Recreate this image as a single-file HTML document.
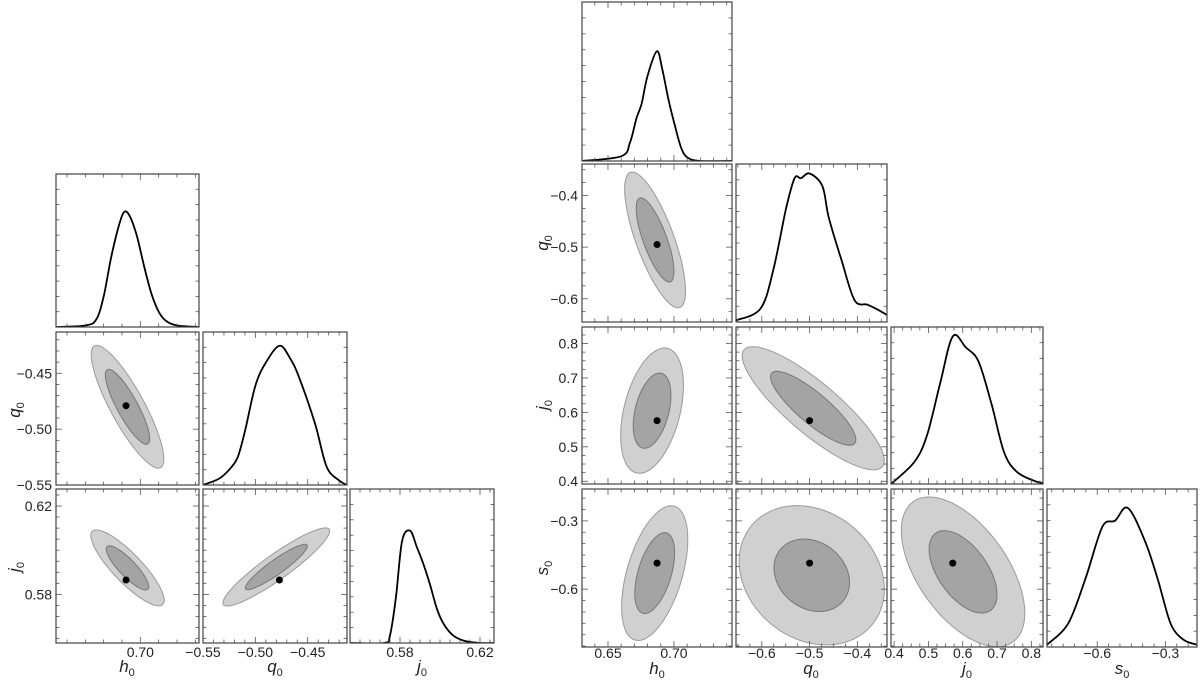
<!DOCTYPE html>
<html><head><meta charset="utf-8"><style>
html,body{margin:0;padding:0;background:#fff;width:1200px;height:682px;overflow:hidden}
svg text{font-family:"Liberation Sans",sans-serif;fill:#222}
</style></head><body>
<svg id="chart" width="1200" height="682" xmlns="http://www.w3.org/2000/svg"></svg>
<script>
// ---------- data ----------
const L_h0_x=[0.677,0.685,0.688,0.690,0.692,0.694,0.6955,0.697,0.699,0.701,0.703,0.705,0.707,0.710,0.716];
const L_h0_d=[0,0.01,0.05,0.2,0.45,0.65,0.75,0.73,0.6,0.4,0.22,0.1,0.04,0.01,0];
const L_q0_x=[-0.55,-0.535,-0.525,-0.517,-0.51,-0.50,-0.49,-0.477,-0.467,-0.458,-0.443,-0.432,-0.42,-0.4125];
const L_q0_d=[0,0.04,0.1,0.18,0.35,0.65,0.8,0.91,0.83,0.7,0.4,0.12,0.03,0];
const L_j0_x=[0.555,0.572,0.575,0.578,0.581,0.585,0.5885,0.5915,0.595,0.5985,0.602,0.6065,0.612,0.62,0.627];
const L_j0_d=[0,0,0.05,0.3,0.66,0.73,0.62,0.52,0.38,0.22,0.12,0.05,0.015,0,0];
const R_h0_x=[0.6303,0.6602,0.6668,0.6716,0.6755,0.6798,0.687,0.6911,0.696,0.7008,0.7056,0.7105,0.7202,0.744];
const R_h0_d=[0,0.03,0.12,0.27,0.36,0.53,0.69,0.58,0.38,0.22,0.08,0.02,0,0];
const R_q0_x=[-0.654,-0.6027,-0.5759,-0.5491,-0.5313,-0.5179,-0.5,-0.4732,-0.4598,-0.433,-0.4063,-0.3795,-0.3616,-0.3384];
const R_q0_d=[0.01,0.085,0.33,0.72,0.91,0.91,0.94,0.86,0.66,0.39,0.14,0.11,0.085,0.045];
const R_j0_x=[0.391,0.459,0.496,0.534,0.571,0.609,0.646,0.684,0.721,0.759,0.809,0.834];
const R_j0_d=[0,0.14,0.31,0.64,0.94,0.87,0.78,0.51,0.2,0.075,0.02,0.005];
const R_s0_x=[-0.821,-0.7275,-0.6525,-0.5775,-0.5213,-0.465,-0.39,-0.3338,-0.2775,-0.2213,-0.161];
const R_s0_d=[0.014,0.15,0.43,0.76,0.80,0.88,0.67,0.43,0.15,0.047,0.014];
// 2D regions: [cx, cy, halfX, halfY, rho, innerScale]; best-fit points
const L_h0q0=[0.6965,-0.480,0.0099,0.055,-0.85,0.61]; const L_h0q0_pt=[0.6961,-0.479];
const L_h0j0=[0.6965,0.592,0.0100,0.0172,-0.85,0.58]; const L_h0j0_pt=[0.6961,0.5865];
const L_q0j0=[-0.480,0.5924,0.051,0.0177,0.92,0.58]; const L_q0j0_pt=[-0.477,0.5865];
const R_h0q0=[0.6857,-0.486,0.0231,0.1315,-0.75,0.62]; const R_h0q0_pt=[0.6872,-0.495];
const R_h0j0=[0.6834,0.605,0.0238,0.182,0.4,0.6]; const R_h0j0_pt=[0.6872,0.576];
const R_q0j0=[-0.4924,0.612,0.1487,0.179,-0.85,0.6]; const R_q0j0_pt=[-0.5,0.576];
const R_h0s0=[0.6854,-0.5295,0.0251,0.296,0.5,0.6]; const R_h0s0_pt=[0.6872,-0.4855];
const R_q0s0=[-0.4955,-0.539,0.152,0.306,-0.2,0.52]; const R_q0s0_pt=[-0.5,-0.4855];
const R_j0s0=[0.601,-0.524,0.18,0.329,-0.55,0.55]; const R_j0s0_pt=[0.571,-0.4855];
const L_rng={h0:[0.677,0.716],q0:[-0.55,-0.4125],j0:[0.555,0.627]};
const L_rngY={q0:[-0.55,-0.413],j0:[0.558,0.6277]};
const R_rng={h0:[0.6303,0.744],q0:[-0.654,-0.338],j0:[0.391,0.834],s0:[-0.821,-0.161]};
const R_rngY={q0:[-0.645,-0.339],j0:[0.392,0.848],s0:[-0.854,-0.16]};
const L_ticks={h0:[0.70],q0:[-0.55,-0.50,-0.45],j0:[0.58,0.62]};
const L_tickLbl={h0:["0.70"],q0:["−0.55","−0.50","−0.45"],j0:["0.58","0.62"]};
const L_ytick={q0:[-0.45,-0.50,-0.55],j0:[0.62,0.58]};
const L_ytickLbl={q0:["−0.45","−0.50","−0.55"],j0:["0.62","0.58"]};
const R_ticks={h0:[0.65,0.70],q0:[-0.6,-0.5,-0.4],j0:[0.4,0.5,0.6,0.7,0.8],s0:[-0.6,-0.3]};
const R_tickLbl={h0:["0.65","0.70"],q0:["−0.6","−0.5","−0.4"],j0:["0.4","0.5","0.6","0.7","0.8"],s0:["−0.6","−0.3"]};
const R_ytick={q0:[-0.4,-0.5,-0.6],j0:[0.8,0.7,0.6,0.5,0.4],s0:[-0.3,-0.6]};
const R_ytickLbl={q0:["−0.4","−0.5","−0.6"],j0:["0.8","0.7","0.6","0.5","0.4"],s0:["−0.3","−0.6"]};
const L_minor={h0:0.005,q0:0.01,j0:0.005};
const R_minor={h0:0.01,q0:0.025,j0:0.025,s0:0.05};

// ---------- drawing ----------
const NS="http://www.w3.org/2000/svg";
const svg=document.getElementById('chart');
function mk(tag,attrs,parent){const e=document.createElementNS(NS,tag);for(const k in attrs)e.setAttribute(k,attrs[k]);(parent||svg).appendChild(e);return e;}
function scale(r,a,b){return v=>a+(v-r[0])/(r[1]-r[0])*(b-a);}
function smooth(pts){let d='M'+pts[0][0].toFixed(1)+','+pts[0][1].toFixed(1);
 for(let i=0;i<pts.length-1;i++){const p0=pts[Math.max(0,i-1)],p1=pts[i],p2=pts[i+1],p3=pts[Math.min(pts.length-1,i+2)];
  const c1=[p1[0]+(p2[0]-p0[0])/6,p1[1]+(p2[1]-p0[1])/6],c2=[p2[0]-(p3[0]-p1[0])/6,p2[1]-(p3[1]-p1[1])/6];
  d+='C'+c1.map(v=>v.toFixed(1))+' '+c2.map(v=>v.toFixed(1))+' '+p2.map(v=>v.toFixed(1));}
 return d;}
let clipId=0;
function panel(name,x0,y0,w,h,xr,yr,xminor,yminor,xt,yt){
 const g=mk('g',{});
 
 
 const cid='c'+(clipId++);
 const cp=mk('clipPath',{id:cid},g);mk('rect',{x:x0,y:y0,width:w,height:h},cp);
 const inner=mk('g',{'clip-path':'url(#'+cid+')'},g);
 const sx=scale(xr,x0,x0+w), sy=yr?scale(yr,y0+h,y0):null;
 const tk=mk('g',{stroke:'#555','stroke-width':0.8},g);
 function ticks(r,step,majors,horiz){
  const start=Math.ceil(r[0]/step-1e-6)*step;
  for(let v=start;v<=r[1]+1e-9;v+=step){
   const isMaj=majors&&majors.some(m=>Math.abs(m-v)<step/3);const L=isMaj?6:3.5;
   if(horiz){const p=sx(v);mk('line',{x1:p,y1:y0+h,x2:p,y2:y0+h-L},tk);mk('line',{x1:p,y1:y0,x2:p,y2:y0+L},tk);}
   else{const p=sy(v);mk('line',{x1:x0,y1:p,x2:x0+L,y2:p},tk);mk('line',{x1:x0+w,y1:p,x2:x0+w-L,y2:p},tk);}
  }}
 ticks(xr,xminor,xt,true);
 if(yr)ticks(yr,yminor,yt,false);
 else{for(let i=1;i<10;i++){const p=y0+h*i/10;mk('line',{x1:x0,y1:p,x2:x0+3.5,y2:p},tk);mk('line',{x1:x0+w,y1:p,x2:x0+w-3.5,y2:p},tk);}}
 mk('rect',{x:x0,y:y0,width:w,height:h,fill:'none',stroke:'#444','stroke-width':1.2},g);
 return {g:inner,sx,sy,x0,y0,w,h};
}
function marginal(P,xs,ds,name){
 const pts=xs.map((v,i)=>[P.sx(v),P.y0+P.h-ds[i]*P.h]);
 const p=mk('path',{d:smooth(pts),fill:'none',stroke:'#000','stroke-width':1.8},P.g);
 
 
}
function ellipsePts(P,c,k){const pts=[];const s=Math.sqrt(1-c[4]*c[4]);
 for(let i=0;i<72;i++){const t=i/72*2*Math.PI;const x=c[0]+k*c[2]*Math.cos(t);const y=c[1]+k*c[3]*(c[4]*Math.cos(t)+s*Math.sin(t));pts.push([P.sx(x),P.sy(y)]);}
 return 'M'+pts.map(p=>p[0].toFixed(1)+','+p[1].toFixed(1)).join('L')+'Z';}
function contour(P,c,pt,name){
 const o=mk('path',{d:ellipsePts(P,c,1),fill:'#d0d0d0',stroke:'#9a9a9a','stroke-width':1},P.g);
 
 
 const i=mk('path',{d:ellipsePts(P,c,c[5]),fill:'#a4a4a4',stroke:'#777','stroke-width':1},P.g);
 
 
 const d=mk('circle',{cx:P.sx(pt[0]),cy:P.sy(pt[1]),r:3.5,fill:'#000'},P.g);
 
 
}
function xlabels(P,vals,lbls,ty){vals.forEach((v,i)=>{const t=mk('text',{x:P.sx(v),y:ty,'text-anchor':'middle','font-size':14});t.textContent=lbls[i];
 });}
function ylabels(P,vals,lbls){vals.forEach((v,i)=>{const t=mk('text',{x:P.x0-4,y:P.sy(v)+5,'text-anchor':'end','font-size':14});t.textContent=lbls[i];
 });}
function title(x,y,sym,rot,name){const t=mk('text',{x:x,y:y,'text-anchor':'middle','font-size':17,transform:rot?'rotate(-90 '+x+' '+y+')':''});
 t.innerHTML='<tspan font-style="italic">'+sym+'</tspan><tspan font-size="11" dy="4">0</tspan>';
 }

// ----- Left corner plot -----
const LX=[56,203,350],LW=[143,144,144],LY=[174,332,489],LH=[153,153,154];
const lv=['h0','q0','j0'];
for(let r=0;r<3;r++)for(let c=0;c<=r;c++){
 const xv=lv[c],yv=lv[r];
 const P=panel('left-panel-'+xv+'-'+yv,LX[c],LY[r],LW[c],LH[r],L_rng[xv],r===c?null:L_rngY[yv],L_minor[xv],L_minor[yv],L_ticks[xv],L_ytick[yv]);
 if(r===c){marginal(P,{h0:L_h0_x,q0:L_q0_x,j0:L_j0_x}[xv],{h0:L_h0_d,q0:L_q0_d,j0:L_j0_d}[xv],'left-marginal-'+xv);}
 else{const k=xv+yv;const C={h0q0:[L_h0q0,L_h0q0_pt],h0j0:[L_h0j0,L_h0j0_pt],q0j0:[L_q0j0,L_q0j0_pt]}[k];contour(P,C[0],C[1],'left-'+xv+'-'+yv);}
 if(r===2)xlabels(P,L_ticks[xv],L_tickLbl[xv],657);
 if(c===0&&r>0)ylabels(P,L_ytick[yv],L_ytickLbl[yv]);
}
title(127,672,'h',false,'left-x-title-h0');title(275,672,'q',false,'left-x-title-q0');title(422,672,'j',false,'left-x-title-j0');
title(20,410,'q',true,'left-y-title-q0');title(20,567,'j',true,'left-y-title-j0');

// ----- Right corner plot -----
const RX=[582,736,891,1047],RW=[150,151,152,150],RY=[2,164,327,489],RH=[159,158,157,158];
const rv=['h0','q0','j0','s0'];
const RM={h0:[R_h0_x,R_h0_d],q0:[R_q0_x,R_q0_d],j0:[R_j0_x,R_j0_d],s0:[R_s0_x,R_s0_d]};
const RC={h0q0:[R_h0q0,R_h0q0_pt],h0j0:[R_h0j0,R_h0j0_pt],q0j0:[R_q0j0,R_q0j0_pt],h0s0:[R_h0s0,R_h0s0_pt],q0s0:[R_q0s0,R_q0s0_pt],j0s0:[R_j0s0,R_j0s0_pt]};
for(let r=0;r<4;r++)for(let c=0;c<=r;c++){
 const xv=rv[c],yv=rv[r];
 const P=panel('right-panel-'+xv+'-'+yv,RX[c],RY[r],RW[c],RH[r],R_rng[xv],r===c?null:R_rngY[yv],R_minor[xv],R_minor[yv],R_ticks[xv],R_ytick[yv]);
 if(r===c)marginal(P,RM[xv][0],RM[xv][1],'right-marginal-'+xv);
 else{const C=RC[xv+yv];contour(P,C[0],C[1],'right-'+xv+'-'+yv);}
 if(r===3)xlabels(P,R_ticks[xv],R_tickLbl[xv],658);
 if(c===0&&r>0)ylabels(P,R_ytick[yv],R_ytickLbl[yv]);
}
title(657,674,'h',false,'right-x-title-h0');title(811,674,'q',false,'right-x-title-q0');title(967,674,'j',false,'right-x-title-j0');title(1122,674,'s',false,'right-x-title-s0');
title(548,243,'q',true,'right-y-title-q0');title(548,405,'j',true,'right-y-title-j0');title(548,568,'s',true,'right-y-title-s0');
</script>
</body></html>
